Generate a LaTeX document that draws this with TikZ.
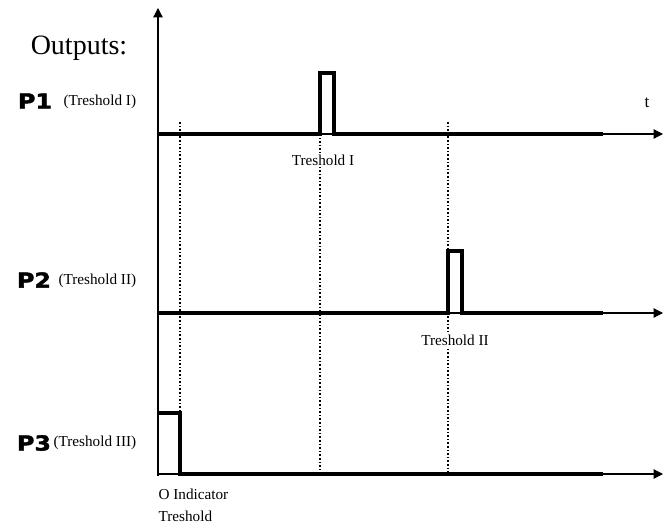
\documentclass[tikz,border=0pt]{standalone}
\usepackage{fontspec}
\setmainfont{Liberation Serif}
\newfontfamily\pfont[FakeStretch=1.15,FakeBold=2]{DejaVu Sans Bold}
\usetikzlibrary{arrows.meta,positioning}
\begin{document}
\begin{tikzpicture}[
  x=0.75pt, y=-0.75pt,
  sig/.style={line width=2.3pt},
  ax/.style={line width=0.9pt},
  axarr/.style={ax, -{Triangle[length=7pt,width=7pt]}},
  guide/.style={line width=1.1pt, dash pattern=on 1.2pt off 1.5pt},
  lbl/.style={font=\fontsize{11.4}{13}\selectfont, inner sep=1pt},
  plbl/.style={font=\pfont\fontsize{15.5}{16}\selectfont, inner sep=0pt},
]
\useasboundingbox (0,0) rectangle (666,524);
% axes
\coordinate (origin) at (158,476);
\coordinate (ytop) at (158,8);
\draw[axarr] (origin) -- (ytop);
\foreach \yy/\nm in {134/a, 313/b, 474/c}{
  \coordinate (\nm start) at (158,\yy);
  \coordinate (\nm end) at (663,\yy);
  \draw[axarr] (\nm start) -- (\nm end);
}
% dotted guides
\draw[guide] (180,122) -- (180,474);
\draw[guide] (320,134) -- (320,474);
\draw[guide] (448,122) -- (448,474);
% signals
\draw[sig] (158,134) -- (320,134) -- (320,73) -- (334,73) -- (334,134) -- (603,134);
\draw[sig] (158,313) -- (448,313) -- (448,251) -- (462,251) -- (462,313) -- (603,313);
\draw[sig] (158,413) -- (180,413) -- (180,474) -- (603,474);
% labels
\node[font=\fontsize{21}{24}\selectfont] (title) at (79,48) {Outputs:};
\node[plbl] (p1) at (35,101) {P1};
\node[lbl, anchor=west] (p1txt) at (62,102) {(Treshold I)};
\node[font=\fontsize{13}{14}\selectfont] (tlbl) at (647,103) {t};
\node[lbl, fill=white] (th1) at (323,160) {Treshold I};
\node[plbl] (p2) at (34,280) {P2};
\node[lbl, anchor=west] (p2txt) at (57,281) {(Treshold II)};
\node[lbl, fill=white] (th2) at (455,340) {Treshold II};
\node[plbl] (p3) at (34,443) {P3};
\node[lbl, anchor=west] (p3txt) at (52,443) {(Treshold III)};
\node[lbl, anchor=west] (ind) at (157,494) {O Indicator};
\node[lbl, anchor=west] (indb) at (157,516) {Treshold};
\end{tikzpicture}
\end{document}
